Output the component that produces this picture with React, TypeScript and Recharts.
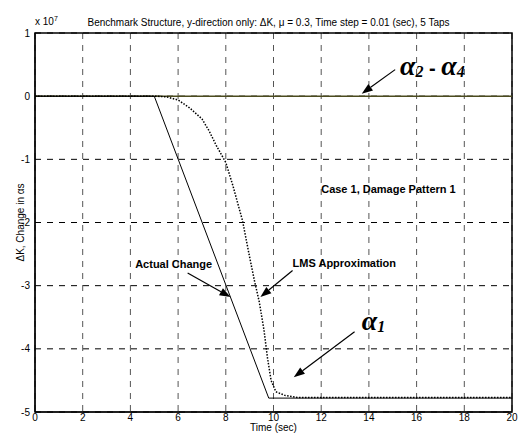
/* LMS damage detection: change in alpha over time, benchmark structure. */

import { CartesianGrid, Line, LineChart, ReferenceArea, ReferenceDot, ReferenceLine, XAxis, YAxis } from "recharts";

const xTicks = [0, 2, 4, 6, 8, 10, 12, 14, 16, 18, 20];
const yTicks = [-5, -4, -3, -2, -1, 0, 1];

// values are in units of 1e7
const actualTime = [0, 5, 9.8, 20];
const actualChange = [0, 0, -4.78, -4.78];

const lmsTime = [0, 5, 5.5, 6, 6.5, 7, 7.3, 7.6, 8, 8.3, 8.7, 9, 9.2, 9.4, 9.6, 9.75, 9.9, 10.1, 10.5, 11, 20];
const lmsChange = [0, 0, -0.01, -0.06, -0.19, -0.36, -0.55, -0.78, -1.05, -1.42, -1.97, -2.55, -2.92, -3.25, -3.7, -4.15, -4.5, -4.68, -4.74, -4.77, -4.77];

const otherTime = [0, 20];
const otherChange = [0, 0];

const zip = (t: number[], v: number[]) => t.map((x, i) => ({ t: x, v: v[i] }));

const SANS = "Liberation Sans, Arial, sans-serif";
const SERIF = "Liberation Serif, Times New Roman, serif";

function Arrow(p: any) {
  const { x1, y1, x2, y2 } = p;
  const a = Math.atan2(y2 - y1, x2 - x1);
  const len = 11;
  const w = 4;
  const bx = x2 - len * Math.cos(a);
  const by = y2 - len * Math.sin(a);
  const px = -Math.sin(a) * w;
  const py = Math.cos(a) * w;
  return (
    <g>
      <line x1={x1} y1={y1} x2={bx} y2={by} stroke="#000" strokeWidth={1.2} />
      <polygon points={`${x2},${y2} ${bx + px},${by + py} ${bx - px},${by - py}`} fill="#000" />
    </g>
  );
}

const note = (text: string) => (p: any) => (
  <text x={p.cx} y={p.cy} fontFamily={SANS} fontSize={11} fontWeight="bold" dominantBaseline="central">
    {text}
  </text>
);

const alphaNote = (sub1: string, sub2?: string) => (p: any) => (
  <text x={p.cx} y={p.cy} fontFamily={SERIF} fontStyle="italic" fontWeight="bold" fontSize={28}>
    α<tspan fontSize={16} dy={2}>{sub1}</tspan>
    {sub2 ? (
      <>
        <tspan dy={-2} fontFamily={SANS} fontStyle="normal" fontWeight="bold" fontSize={20}>{" - "}</tspan>
        <tspan>α</tspan>
        <tspan fontSize={16} dy={2}>{sub2}</tspan>
      </>
    ) : null}
  </text>
);

const header = (p: any) => (
  <g fontFamily={SANS} fill="#000" fontSize={10}>
    <text x={p.cx - 5} y={p.cy - 7} textAnchor="middle">
      Benchmark Structure, y-direction only: ΔK, μ = 0.3, Time step = 0.01 (sec), 5 Taps
    </text>
  </g>
);

const exponent = (p: any) => (
  <text x={p.cx} y={p.cy - 8} fontFamily={SANS} fontSize={10} fill="#000">
    x 10<tspan fontSize={7} dy={-4}>7</tspan>
  </text>
);

export default function App() {
  return (
    <div style={{ position: "absolute", left: 0, top: 0, background: "#fff" }}>
      <LineChart width={522} height={434} margin={{ top: 33, right: 10, bottom: 0, left: 0 }}>
        <CartesianGrid vertical={false} stroke="#000" strokeDasharray="6 6" />
        <CartesianGrid horizontal={false} stroke="#555" strokeDasharray="6 6" />
        <XAxis
          type="number"
          dataKey="t"
          domain={[0, 20]}
          ticks={xTicks}
          height={22}
          tickSize={0}
          tickMargin={2}
          stroke="#000"
          tick={{ fill: "#000", fontSize: 10, fontFamily: SANS }}
          label={{ value: "Time (sec)", position: "insideBottom", offset: 3, fill: "#000", fontSize: 10, fontFamily: SANS }}
        />
        <YAxis
          type="number"
          domain={[-5, 1]}
          ticks={yTicks}
          width={35}
          tickSize={0}
          tickMargin={5}
          stroke="#000"
          tick={{ fill: "#000", fontSize: 10, fontFamily: SANS }}
          label={{
            content: ({ viewBox }: any) => {
              const cx = viewBox.x + 20;
              const cy = viewBox.y + viewBox.height / 2;
              return (
                <text x={cx} y={cy} transform={`rotate(-90 ${cx} ${cy})`} textAnchor="middle" dominantBaseline="central" fontFamily={SANS} fontSize={10} fill="#000">
                  ΔK, Change in αs
                </text>
              );
            },
          }}
        />

        <Line data={zip(otherTime, otherChange)} dataKey="v" stroke="#4b4b1e" strokeWidth={1.5} dot={false} isAnimationActive={false} />
        <Line data={zip(actualTime, actualChange)} dataKey="v" stroke="#000" strokeWidth={1} dot={false} isAnimationActive={false} />
        <Line data={zip(lmsTime, lmsChange)} dataKey="v" stroke="#000" strokeWidth={1.5} strokeDasharray="1.5 1.5" dot={false} isAnimationActive={false} />

        <ReferenceArea x1={0} x2={20} y1={-5} y2={1} fill="none" stroke="#000" strokeWidth={1.5} ifOverflow="visible" />

        <ReferenceLine segment={[{ x: 15.1, y: 0.42 }, { x: 13.7, y: 0.04 }]} shape={Arrow} ifOverflow="visible" />
        <ReferenceLine segment={[{ x: 13.4, y: -3.73 }, { x: 10.85, y: -4.45 }]} shape={Arrow} ifOverflow="visible" />
        <ReferenceLine segment={[{ x: 6.4, y: -2.8 }, { x: 8.2, y: -3.18 }]} shape={Arrow} ifOverflow="visible" />
        <ReferenceLine segment={[{ x: 10.8, y: -2.76 }, { x: 9.45, y: -3.18 }]} shape={Arrow} ifOverflow="visible" />

        <ReferenceDot x={10} y={1} r={0} shape={header} ifOverflow="visible" />
        <ReferenceDot x={0} y={1} r={0} shape={exponent} ifOverflow="visible" />
        <ReferenceDot x={15.3} y={0.33} r={0} shape={alphaNote("2", "4")} ifOverflow="visible" />
        <ReferenceDot x={13.7} y={-3.7} r={0} shape={alphaNote("1")} ifOverflow="visible" />
        <ReferenceDot x={4.2} y={-2.65} r={0} shape={note("Actual Change")} ifOverflow="visible" />
        <ReferenceDot x={10.8} y={-2.64} r={0} shape={note("LMS Approximation")} ifOverflow="visible" />
        <ReferenceDot x={12.0} y={-1.47} r={0} shape={note("Case 1, Damage Pattern 1")} ifOverflow="visible" />
      </LineChart>
    </div>
  );
}
